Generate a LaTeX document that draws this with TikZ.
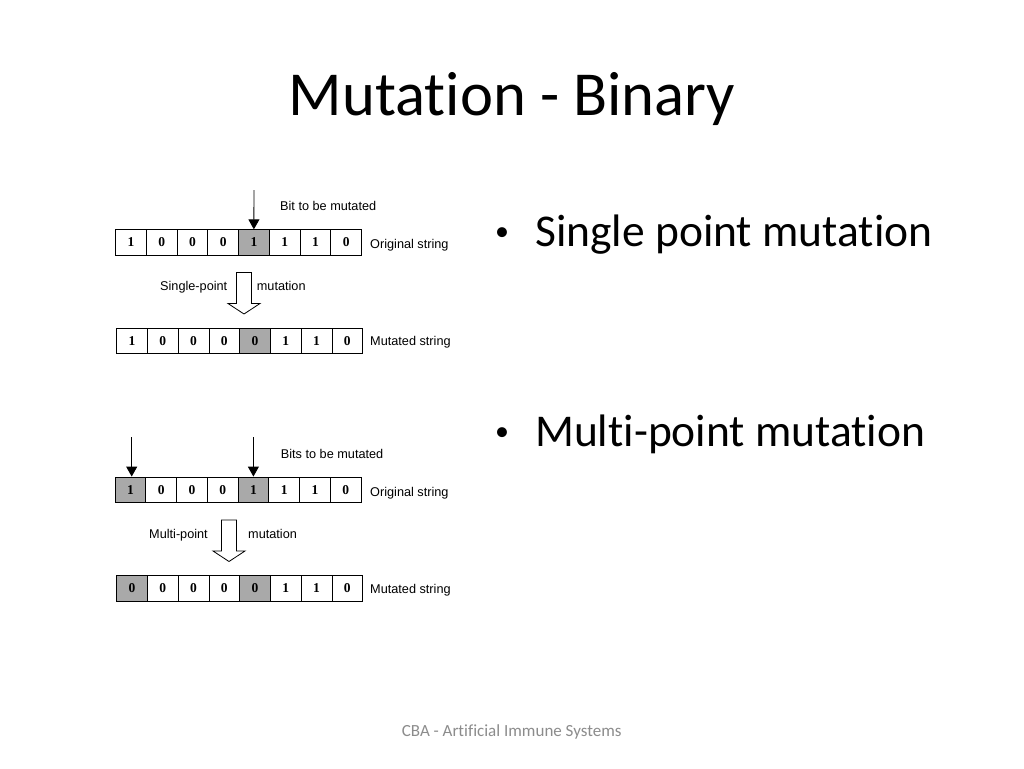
\documentclass[tikz,border=0pt]{standalone}
\usepackage{fontspec}
\setmainfont{Carlito}[Ligatures={NoCommon,NoContextual}]
\newfontfamily\labelfont{Liberation Sans}
\newfontfamily\bitfont{Liberation Serif}
\usetikzlibrary{arrows.meta}
\definecolor{mutgray}{HTML}{A9A9A9}
\definecolor{footgray}{HTML}{8C8C8C}
\tikzset{
  bit/.style={draw, line width=0.8pt, minimum width=30.75pt, minimum height=25.5pt, inner sep=0,
    font=\bitfont\bfseries\fontsize{13.5}{13.5}\selectfont},
  flip/.style={bit, fill=mutgray},
  tag/.style={anchor=base west, inner sep=0, font=\labelfont\fontsize{12.7}{13}\selectfont},
  pointer/.style={line width=0.9pt, -{Triangle[length=10pt,width=11pt]}},
  hollow/.pic={code={%
      \draw[line width=0.8pt, fill=white] (-7.5,0) -- (7.5,0) -- (7.5,31) -- (16,31)
        -- (0,41.5) -- (-16,31) -- (-7.5,31) -- cycle;
  }}
}
\begin{document}
\begin{tikzpicture}[x=1pt, y=-1pt]
    \fill[white] (0,0) rectangle (1024,768);
    \useasboundingbox (0,0) rectangle (1024,768);

    % title and bullets
    \node [anchor=base, inner sep=0, font=\fontsize{62.6}{70}\selectfont] (title) at (512,115) {Mutation - Binary};
    \node [anchor=base, inner sep=0, font=\fontsize{28}{30}\selectfont] (dot1) at (502,240.5) {\textbullet};
    \node [anchor=base west, inner sep=0, font=\fontsize{45.5}{50}\selectfont] (single pt) at (535,246.7) {Single point mutation};
    \node [anchor=base, inner sep=0, font=\fontsize{28}{30}\selectfont] (dot2) at (502,440.5) {\textbullet};
    \node [anchor=base west, inner sep=0, font=\fontsize{45.5}{50}\selectfont] (multi pt) at (535,446.7) {Multi-point mutation};
    \node [anchor=base, inner sep=0, text=footgray, font=\fontsize{17}{20}\selectfont] (footer) at (511.7,736.7) {CBA - Artificial Immune Systems};

    % single-point mutation
    \foreach \b/\s [count=\i] in {1/bit,0/bit,0/bit,0/bit,1/flip,1/bit,1/bit,0/bit}
      \node [\s] (a\i) at ({115.5+30.75*(\i-0.5)},242.5) {\b};
    \foreach \b/\s [count=\i] in {1/bit,0/bit,0/bit,0/bit,0/flip,1/bit,1/bit,0/bit}
      \node [\s] (b\i) at ({116.7+30.75*(\i-0.5)},340.8) {\b};
    \coordinate (pa) at (254,190);
    \draw [pointer] (pa) -- (a5.north);
    \path (244,272.5) pic {hollow};
    \node [tag] (bit lbl) at (280,210) {Bit to be mutated};
    \node [tag] (orig a) at (370,248) {Original string};
    \node [tag] (single lbl) at (160,290) {Single-point};
    \node [tag] (mut a) at (256.7,290) {mutation};
    \node [tag] (mutd a) at (370,345) {Mutated string};

    % multi-point mutation
    \foreach \b/\s [count=\i] in {1/flip,0/bit,0/bit,0/bit,1/flip,1/bit,1/bit,0/bit}
      \node [\s] (c\i) at ({115+30.75*(\i-0.5)},489.7) {\b};
    \foreach \b/\s [count=\i] in {0/flip,0/bit,0/bit,0/bit,0/flip,1/bit,1/bit,0/bit}
      \node [\s] (d\i) at ({116.7+30.75*(\i-0.5)},588.2) {\b};
    \coordinate (pc1) at (131.7,437);
    \coordinate (pc5) at (253.4,437);
    \draw [pointer] (pc1) -- (c1.north -| pc1);
    \draw [pointer] (pc5) -- (c5.north -| pc5);
    \path (229,520) pic {hollow};
    \node [tag] (bits lbl) at (280.7,458.3) {Bits to be mutated};
    \node [tag] (orig c) at (370,496.7) {Original string};
    \node [tag] (multi lbl) at (149,538.3) {Multi-point};
    \node [tag] (mut c) at (248,538.3) {mutation};
    \node [tag] (mutd c) at (370,593.3) {Mutated string};
\end{tikzpicture}
\end{document}
